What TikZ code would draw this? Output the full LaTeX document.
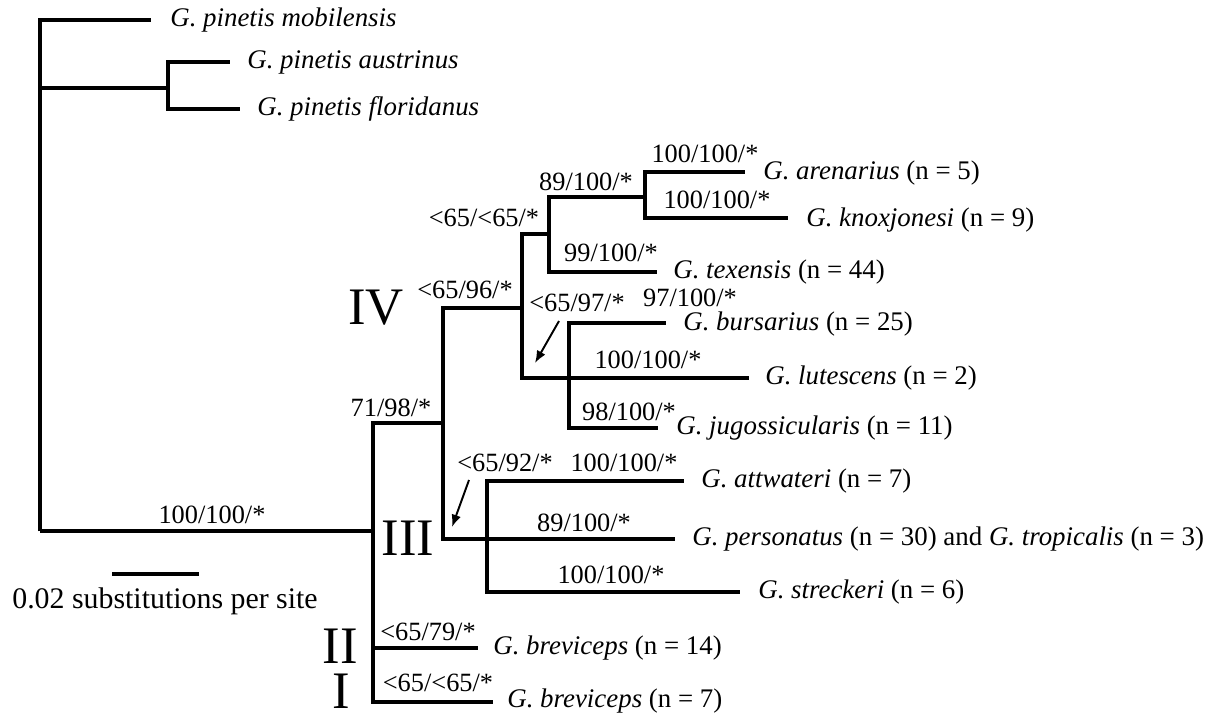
\documentclass[tikz,border=0pt]{standalone}
\usepackage{fontspec}
\setmainfont{LiberationSerif}[Extension=.ttf, UprightFont=*-Regular, ItalicFont=*-Italic, BoldFont=*-Bold, BoldItalicFont=*-BoldItalic]
\usetikzlibrary{arrows.meta}

\begin{document}
\begin{tikzpicture}[x=0.02cm, y=-0.02cm,
  branch/.style={line width=1.8pt},
  pointer/.style={line width=1.1pt, -{Latex[length=7pt,width=5.5pt]}},
  sp/.style={anchor=west, inner sep=0pt, font=\fontsize{15.3}{18}\selectfont},
  bs/.style={inner sep=0pt, font=\fontsize{15}{18}\selectfont},
  clade/.style={inner sep=0pt, font=\fontsize{30}{36}\selectfont}]
\useasboundingbox (0,0) rectangle (1216,717);

% internal nodes
\coordinate (root) at (40,531);
\coordinate (pin) at (168,88);
\coordinate (ing) at (373,531);
\coordinate (c4) at (443,423);
\coordinate (cIV) at (522,308);
\coordinate (cA) at (549,234);
\coordinate (cB) at (645,197);
\coordinate (bj) at (569,378);
\coordinate (as) at (487,539);

% tips
\coordinate (mob) at (151,20);
\coordinate (aus) at (230,62);
\coordinate (flo) at (240,109);
\coordinate (are) at (745,172);
\coordinate (kno) at (788,218);
\coordinate (tex) at (657,272);
\coordinate (bur) at (666,323);
\coordinate (lut) at (749,378);
\coordinate (jug) at (658,428);
\coordinate (att) at (684,481);
\coordinate (pers) at (675,539);
\coordinate (str) at (740,592);
\coordinate (brA) at (478,648);
\coordinate (brB) at (493,702);

\foreach \a/\b in {root/mob, root/pin, root/ing, pin/aus, pin/flo,
  ing/c4, ing/brA, ing/brB, c4/cIV, c4/pers, cIV/cA, cIV/lut,
  cA/cB, cA/tex, cB/are, cB/kno, bj/bur, bj/jug, as/att, as/str}
  \draw[branch] (\a) |- (\b);

% species
\node[sp] (Lmob) at (170,20) {\textit{G. pinetis mobilensis}};
\node[sp] (Laus) at (247,62) {\textit{G. pinetis austrinus}};
\node[sp] (Lflo) at (257,109) {\textit{G. pinetis floridanus}};
\node[sp] (Lare) at (763,173) {\textit{G. arenarius} (n = 5)};
\node[sp] (Lkno) at (806,220) {\textit{G. knoxjonesi} (n = 9)};
\node[sp] (Ltex) at (673,272) {\textit{G. texensis} (n = 44)};
\node[sp] (Lbur) at (683,324) {\textit{G. bursarius} (n = 25)};
\node[sp] (Llut) at (765,378) {\textit{G. lutescens} (n = 2)};
\node[sp] (Ljug) at (676,428) {\textit{G. jugossicularis} (n = 11)};
\node[sp] (Latt) at (701,481) {\textit{G. attwateri} (n = 7)};
\node[sp] (Lpers) at (692,539) {\textit{G. personatus} (n = 30) and \textit{G. tropicalis} (n = 3)};
\node[sp] (Lstr) at (758,592) {\textit{G. streckeri} (n = 6)};
\node[sp] (LbrA) at (493,648) {\textit{G. breviceps} (n = 14)};
\node[sp] (LbrB) at (507,701) {\textit{G. breviceps} (n = 7)};

% support values
\node[bs] (Broot) at (212,515) {100/100/*};
\node[bs] (Bc4) at (391,408) {71/98/*};
\node[bs] (BcIV) at (465,290) {<65/96/*};
\node[bs] (BcA) at (484,218) {<65/<65/*};
\node[bs] (BcB) at (586,182) {89/100/*};
\node[bs] (Bare) at (705,154) {100/100/*};
\node[bs] (Bkno) at (717,200) {100/100/*};
\node[bs] (Btex) at (611,253) {99/100/*};
\node[bs] (Bbj) at (577,303) {<65/97/*};
\node[bs] (Bbur) at (690,298) {97/100/*};
\node[bs] (Blut) at (648,360) {100/100/*};
\node[bs] (Bjug) at (629,412) {98/100/*};
\node[bs] (Bas) at (505,463) {<65/92/*};
\node[bs] (Batt) at (624,463) {100/100/*};
\node[bs] (Bpers) at (584,523) {89/100/*};
\node[bs] (Bstr) at (611,575) {100/100/*};
\node[bs] (BbrA) at (428,632) {<65/79/*};
\node[bs] (BbrB) at (438,683) {<65/<65/*};

% pointers to short branches
\coordinate (p1s) at (559,321);
\coordinate (p1e) at (535,363);
\coordinate (p2s) at (469,480);
\coordinate (p2e) at (452,527);
\draw[pointer] (p1s) -- (p1e);
\draw[pointer] (p2s) -- (p2e);

% clades
\node[clade] (IV) at (376,308) {IV};
\node[clade] (III) at (408,538) {III};
\node[clade] (II) at (340,646) {II};
\node[clade] (I) at (341,691) {I};

% scale
\coordinate (sb1) at (112,574);
\coordinate (sb2) at (199,574);
\draw[branch] (sb1) -- (sb2);
\node[inner sep=0pt, font=\fontsize{17}{20}\selectfont] (sbl) at (165,601) {0.02 substitutions per site};

\end{tikzpicture}
\end{document}
